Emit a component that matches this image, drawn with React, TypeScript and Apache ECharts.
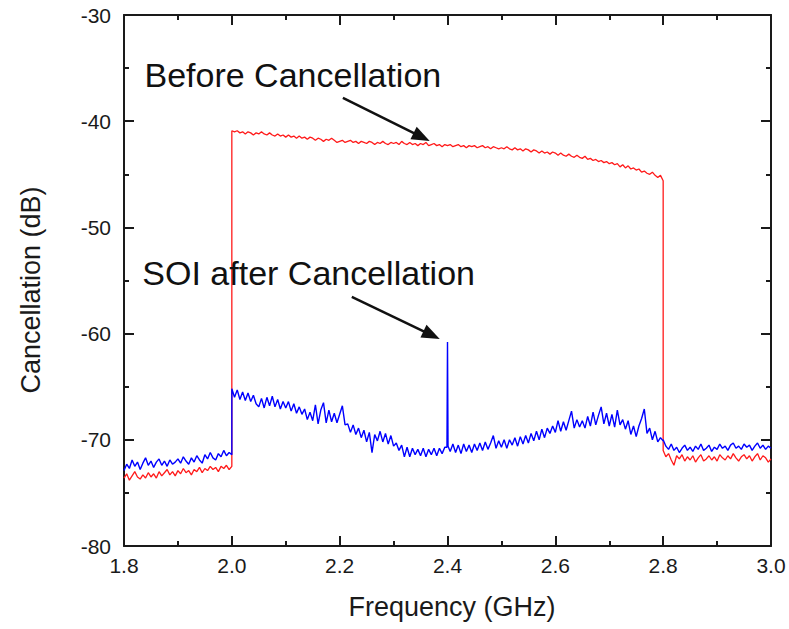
import { useEffect, useRef } from "react";
import * as echarts from "echarts";

// Frequency sampling grid (GHz)
const FREQ_STEP = 0.005;
const LOW1_START = 1.8;
const BAND_START = 2.0;
const LOW2_START = 2.8;

// Before cancellation (red)
const RED_LOW_1 = [
  -73.6, -73.2, -73.8, -73.4, -73.0, -73.5, -73.7, -73.3, -73.6, -73.1,
  -73.5, -73.2, -73.6, -73.0, -73.4, -73.1, -72.8, -73.3, -73.0, -73.4,
  -72.9, -73.2, -72.7, -73.1, -72.9, -73.3, -72.8, -73.0, -72.6, -73.1,
  -72.7, -72.9, -72.5, -72.8, -72.6, -73.0, -72.5, -72.7, -72.4, -72.8, -72.5,
];
const RED_BAND = [
  -40.9, -41.0, -40.9, -41.1, -41.0, -41.2, -41.0, -41.1, -41.3, -41.1,
  -41.2, -41.0, -41.2, -41.3, -41.1, -41.3, -41.4, -41.2, -41.4, -41.3,
  -41.5, -41.3, -41.5, -41.4, -41.6, -41.4, -41.6, -41.5, -41.7, -41.5,
  -41.6, -41.8, -41.6, -41.7, -41.9, -41.7, -41.8, -41.6, -41.8, -42.0,
  -41.9, -41.8, -42.0, -41.9, -41.8, -42.0, -41.9, -42.1, -41.9, -42.0,
  -42.1, -41.9, -42.0, -42.2, -42.0, -42.1, -41.9, -42.1, -42.2, -42.0,
  -42.1, -42.0, -42.2, -41.9, -42.1, -42.2, -42.0, -42.2, -42.1, -42.3,
  -42.1, -42.2, -42.0, -42.3, -42.2, -42.1, -42.3, -42.2, -42.4, -42.2,
  -42.3, -42.2, -42.4, -42.3, -42.2, -42.4, -42.3, -42.5, -42.3, -42.4,
  -42.3, -42.5, -42.4, -42.3, -42.5, -42.4, -42.6, -42.4, -42.5, -42.6,
  -42.5, -42.6, -42.4, -42.6, -42.7, -42.5, -42.7, -42.6, -42.8, -42.6,
  -42.7, -42.9, -42.7, -42.8, -43.0, -42.8, -43.0, -42.9, -43.1, -42.9,
  -43.0, -43.2, -43.0, -43.2, -43.3, -43.1, -43.3, -43.4, -43.2, -43.4,
  -43.5, -43.3, -43.6, -43.5, -43.7, -43.6, -43.8, -43.7, -43.9, -43.8,
  -44.0, -43.9, -44.1, -44.0, -44.3, -44.1, -44.4, -44.2, -44.5, -44.4,
  -44.6, -44.5, -44.8, -44.7, -44.9, -45.0, -44.8, -45.1, -45.3, -45.1,
  -45.6,
];
const RED_LOW_2 = [
  -71.0, -71.6, -71.3, -71.9, -72.4, -71.5, -71.8, -71.4, -72.0, -71.6,
  -71.9, -71.5, -72.1, -71.7, -71.4, -72.0, -71.8, -71.5, -71.9, -71.6,
  -72.0, -71.4, -71.7, -71.9, -71.5, -71.8, -71.3, -71.7, -72.0, -71.6,
  -71.4, -71.8, -71.5, -72.0, -71.6, -71.3, -71.9, -71.5, -71.7, -72.1, -71.8,
];

// SOI after cancellation (blue)
const BLUE_LOW_1 = [
  -72.9, -72.3, -72.7, -71.9, -72.5, -72.1, -72.8, -72.2, -71.7, -72.4,
  -72.0, -72.6, -72.1, -71.8, -72.4, -72.0, -72.5, -71.9, -72.3, -72.1,
  -71.8, -72.2, -71.6, -72.0, -72.3, -71.7, -72.1, -71.5, -71.9, -72.2,
  -71.4, -71.8, -71.2, -71.7, -71.9, -71.3, -71.6, -71.0, -71.5, -71.2, -71.4,
];
const BLUE_BAND = [
  -65.2, -66.0, -65.3, -66.2, -65.5, -66.3, -65.6, -66.4, -65.8, -66.6,
  -66.9, -66.1, -67.0, -66.0, -66.8, -65.9, -66.9, -66.2, -67.1, -66.4,
  -67.0, -66.4, -67.3, -66.6, -67.5, -66.9, -67.6, -67.1, -68.1, -67.4,
  -68.2, -66.7, -68.5, -67.2, -66.5, -68.4, -67.2, -68.3, -67.5, -68.4,
  -67.6, -66.8, -68.6, -68.5, -69.3, -68.6, -69.5, -68.9, -69.8, -69.1,
  -70.2, -69.3, -71.2, -69.5, -70.1, -69.2, -70.2, -69.4, -70.4, -69.6,
  -70.6, -70.3, -71.0, -70.5, -71.6, -70.7, -71.6, -70.8, -71.4, -70.9,
  -71.5, -70.8, -71.6, -70.9, -71.4, -70.8, -71.5, -70.8, -71.3, -70.7,
  -70.5, -71.1, -70.4, -71.2, -70.5, -71.3, -70.4, -71.1, -70.5, -71.2,
  -70.4, -71.0, -70.3, -71.0, -70.2, -70.9, -70.3, -69.6, -70.8, -70.1,
  -70.7, -70.0, -70.8, -70.0, -70.5, -69.8, -70.6, -69.7, -70.4, -69.6,
  -70.3, -69.4, -70.1, -69.2, -70.0, -69.0, -69.8, -68.9, -69.4, -68.7,
  -69.3, -68.2, -69.2, -68.3, -69.1, -68.2, -67.3, -68.9, -68.1, -68.8,
  -68.2, -68.9, -67.8, -68.7, -67.4, -68.6, -67.7, -66.9, -68.5, -67.5,
  -68.7, -67.6, -68.8, -67.2, -68.6, -68.1, -69.0, -68.2, -69.5, -68.7,
  -69.7, -68.7, -68.0, -67.1, -69.4, -68.9, -70.0, -69.2, -70.2, -69.8,
  -70.1,
];
const BLUE_LOW_2 = [
  -70.0, -70.6, -70.9, -70.4, -71.0, -70.7, -71.2, -70.8, -70.5, -71.0,
  -70.7, -71.1, -70.6, -70.9, -70.4, -71.0, -70.8, -70.5, -71.1, -70.7,
  -70.9, -70.4, -70.8, -70.6, -71.0, -70.5, -70.3, -70.8, -70.6, -70.9,
  -70.4, -70.7, -70.5, -71.0, -70.6, -70.3, -70.8, -70.5, -70.9, -70.6, -70.8,
];
// Narrow spike of the SOI at 2.4 GHz: [freq, dB]
const BLUE_SPIKE = [
  [2.399, -70.7],
  [2.4, -60.8],
  [2.401, -70.6],
];

const X_TICKS = [1.8, 2.0, 2.2, 2.4, 2.6, 2.8, 3.0];
const Y_TICKS = [-80, -70, -60, -50, -40, -30];

// Annotations in data coordinates
const NOTE_BEFORE = { text: "Before Cancellation", at: [1.838, -35.64], from: [2.206, -37.8], to: [2.367, -41.86] };
const NOTE_SOI = { text: "SOI after Cancellation", at: [1.834, -54.25], from: [2.2225, -56.55], to: [2.3856, -60.5] };

const FONT = '"Liberation Sans", Arial, Helvetica, sans-serif';
const INK = "#1a1a1a";

function seg(start: number, vals: number[]): number[][] {
  return vals.map((v, i) => [Math.round((start + i * FREQ_STEP) * 1000) / 1000, v]);
}

const redData = [...seg(LOW1_START, RED_LOW_1), ...seg(BAND_START, RED_BAND), ...seg(LOW2_START, RED_LOW_2)];
const blueBand = seg(BAND_START, BLUE_BAND);
const spikeIdx = blueBand.findIndex((p) => Math.abs(p[0] - 2.4) < 1e-9);
blueBand.splice(spikeIdx, 1, ...BLUE_SPIKE);
const blueData = [...seg(LOW1_START, BLUE_LOW_1), ...blueBand, ...seg(LOW2_START, BLUE_LOW_2)];

function xAxisDef(pos: "bottom" | "top", labels: boolean) {
  return {
    type: "value",
    position: pos,
    min: X_TICKS[0],
    max: X_TICKS[X_TICKS.length - 1],
    interval: 0.2,
    name: labels ? "Frequency (GHz)" : "",
    nameLocation: "middle",
    nameGap: 47,
    nameTextStyle: { fontFamily: FONT, fontSize: 27, color: INK, padding: [0, 0, 0, 9] },
    axisLine: { show: true, onZero: false, lineStyle: { color: INK, width: 2 } },
    axisTick: { show: true, inside: true, length: 10, lineStyle: { color: INK, width: 2 } },
    minorTick: { show: true, splitNumber: 2, length: 5, lineStyle: { color: INK, width: 2 } },
    splitLine: { show: false },
    minorSplitLine: { show: false },
    axisLabel: {
      show: labels,
      margin: 9,
      fontFamily: FONT,
      fontSize: 21,
      color: INK,
      formatter: (v: number) => v.toFixed(1),
    },
  };
}

function yAxisDef(pos: "left" | "right", labels: boolean) {
  return {
    type: "value",
    position: pos,
    min: Y_TICKS[0],
    max: Y_TICKS[Y_TICKS.length - 1],
    interval: 10,
    name: labels ? "Cancellation (dB)" : "",
    nameLocation: "middle",
    nameGap: 80,
    nameRotate: 90,
    nameTextStyle: { fontFamily: FONT, fontSize: 27, color: INK, padding: [0, 19, 0, 0] },
    axisLine: { show: true, onZero: false, lineStyle: { color: INK, width: 2 } },
    axisTick: { show: true, inside: true, length: 10, lineStyle: { color: INK, width: 2 } },
    minorTick: { show: true, splitNumber: 2, length: 5, lineStyle: { color: INK, width: 2 } },
    splitLine: { show: false },
    minorSplitLine: { show: false },
    axisLabel: { show: labels, margin: 13, fontFamily: FONT, fontSize: 21, color: INK },
  };
}

export default function App() {
  const ref = useRef<HTMLDivElement>(null);
  useEffect(() => {
    if (!ref.current) return;
    const chart = echarts.init(ref.current, null, { renderer: "svg" });
    chart.setOption({
      animation: false,
      backgroundColor: "#ffffff",
      grid: { left: 124, right: 18, top: 15, bottom: 83 },
      xAxis: [xAxisDef("bottom", true), xAxisDef("top", false)],
      yAxis: [yAxisDef("left", true), yAxisDef("right", false)],
      series: [
        {
          name: "Before Cancellation",
          type: "line",
          data: redData,
          showSymbol: false,
          symbol: "none",
          lineStyle: { color: "#ff1a1a", width: 1.3 },
          z: 2,
        },
        {
          name: "SOI after Cancellation",
          type: "line",
          data: blueData,
          showSymbol: false,
          symbol: "none",
          lineStyle: { color: "#0000ff", width: 1.4 },
          z: 3,
        },
      ],
    });

    const px = (p: number[]) => chart.convertToPixel({ xAxisIndex: 0, yAxisIndex: 0 }, p) as number[];
    const graphics: any[] = [];
    [NOTE_BEFORE, NOTE_SOI].forEach((n) => {
      const t = px(n.at);
      graphics.push({
        type: "text",
        x: t[0],
        y: t[1],
        z: 10,
        style: {
          text: n.text,
          font: `34px ${FONT}`,
          fill: "#111111",
          align: "left",
          verticalAlign: "middle",
          textAlign: "left",
          textVerticalAlign: "middle",
        },
      });
      const s = px(n.from);
      const e = px(n.to);
      const dx = e[0] - s[0];
      const dy = e[1] - s[1];
      const len = Math.hypot(dx, dy);
      const ux = dx / len;
      const uy = dy / len;
      const L = 18;
      const W = 7;
      const bx = e[0] - ux * L;
      const by = e[1] - uy * L;
      graphics.push({
        type: "line",
        z: 10,
        shape: { x1: s[0], y1: s[1], x2: bx + ux * 2, y2: by + uy * 2 },
        style: { stroke: "#111111", lineWidth: 2.5 },
      });
      graphics.push({
        type: "polygon",
        z: 10,
        shape: {
          points: [
            [e[0], e[1]],
            [bx - uy * W, by + ux * W],
            [bx + uy * W, by - ux * W],
          ],
        },
        style: { fill: "#111111" },
      });
    });
    chart.setOption({ graphic: graphics });

    return () => chart.dispose();
  }, []);
  return <div ref={ref} style={{ position: "fixed", left: 0, top: 0, width: 789, height: 629 }} />;
}
